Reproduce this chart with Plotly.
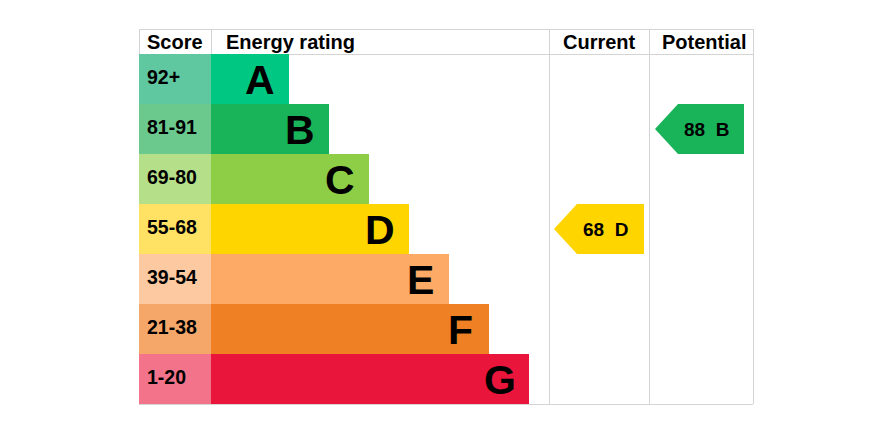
import plotly.graph_objects as go

# ---- data ----
bands = ["A", "B", "C", "D", "E", "F", "G"]
score_ranges = ["92+", "81-91", "69-80", "55-68", "39-54", "21-38", "1-20"]
band_colors = ["#00c781", "#19b459", "#8dce46", "#ffd500", "#fcaa65", "#ef8023", "#e9153b"]
score_colors = ["#5fc8a0", "#6bc98e", "#b6df89", "#ffe264", "#fdc9a0", "#f4a769", "#f2738a"]
current_score, current_band = 68, "D"
potential_score, potential_band = 88, "B"
headers = ["Score", "Energy rating", "Current", "Potential"]

# ---- layout geometry (pixels) ----
W, H = 878, 436
left, score_right = 139, 211
cur_left, pot_left, right = 549, 649, 753
top, head_bottom, row_h = 29, 54, 50
bar_base_len, bar_step = 78, 40
font = "Liberation Sans, Arial, sans-serif"
grid = "#d4d4d4"

n = len(bands)
centers = [head_bottom + row_h * (i + 0.5) for i in range(n)]
lengths = [bar_base_len + bar_step * i for i in range(n)]
bottom = head_bottom + row_h * n

fig = go.Figure()
fig.add_trace(go.Bar(orientation="h", y=centers, x=[score_right - left] * n, base=left,
                     width=row_h, marker=dict(color=score_colors, line=dict(width=0)),
                     hoverinfo="skip"))
fig.add_trace(go.Bar(orientation="h", y=centers, x=lengths, base=score_right,
                     width=row_h, marker=dict(color=band_colors, line=dict(width=0)),
                     hoverinfo="skip"))

shapes = []
def line(x0, y0, x1, y1):
    shapes.append(dict(type="line", x0=x0, y0=y0, x1=x1, y1=y1, xref="x", yref="y",
                       line=dict(color=grid, width=1), layer="below"))

line(left, top + 0.5, right, top + 0.5)
line(left, head_bottom + 0.5, right, head_bottom + 0.5)
line(left, bottom + 0.5, right, bottom + 0.5)
line(left + 0.5, top, left + 0.5, head_bottom)
line(score_right + 0.5, top, score_right + 0.5, head_bottom)
for xv in (cur_left, pot_left, right):
    line(xv + 0.5, top, xv + 0.5, bottom)

annotations = []
hy = (top + head_bottom) / 2
hfont = dict(family=font, size=20, color="#000")
annotations.append(dict(x=(left + score_right) / 2, y=hy, text="<b>%s</b>" % headers[0], xanchor="center", font=hfont))
annotations.append(dict(x=score_right + 13, y=hy, text="<b>%s</b>" % headers[1], xanchor="left", font=hfont))
annotations.append(dict(x=(cur_left + pot_left) / 2, y=hy, text="<b>%s</b>" % headers[2], xanchor="center", font=hfont))
annotations.append(dict(x=(pot_left + right) / 2 + 3, y=hy, text="<b>%s</b>" % headers[3], xanchor="center", font=hfont))

for i in range(n):
    annotations.append(dict(x=left + 6, y=centers[i] - 2, text="<b>%s</b>" % score_ranges[i],
                            xanchor="left", font=dict(family=font, size=19.5, color="#000")))
    annotations.append(dict(x=score_right + lengths[i] - 29, y=centers[i] + 0.5,
                            text="<b>%s</b>" % bands[i], xanchor="center",
                            font=dict(family=font, size=41, color="#000")))

def arrow(score, band, col_left, col_right, tip_pad, right_pad):
    i = bands.index(band)
    yc = centers[i]
    y0, y1 = yc - row_h / 2, yc + row_h / 2
    x_tip = col_left + tip_pad
    x_r = col_right - right_pad
    x_k = x_tip + 23
    shapes.append(dict(type="path", xref="x", yref="y",
                       path="M %s %s L %s %s L %s %s L %s %s L %s %s Z" % (
                           x_tip, yc, x_k, y0, x_r, y0, x_r, y1, x_k, y1),
                       fillcolor=band_colors[i], line=dict(width=0)))
    annotations.append(dict(x=x_tip + 51, y=yc,
                            text="<b>%d&nbsp;&nbsp;%s</b>" % (score, band),
                            xanchor="center", font=dict(family=font, size=19, color="#000")))

arrow(current_score, current_band, cur_left, pot_left, 5, 5)
arrow(potential_score, potential_band, pot_left, right, 6, 9)

for a in annotations:
    a.update(xref="x", yref="y", showarrow=False, yanchor="middle")

fig.update_layout(
    width=W, height=H, autosize=False,
    margin=dict(l=0, r=0, t=0, b=0, pad=0),
    paper_bgcolor="white", plot_bgcolor="white",
    showlegend=False, barmode="overlay",
    xaxis=dict(range=[0, W], visible=False, fixedrange=True),
    yaxis=dict(range=[H, 0], visible=False, fixedrange=True),
    shapes=shapes, annotations=annotations,
)
fig.write_html("out.html", config={"displayModeBar": False})
